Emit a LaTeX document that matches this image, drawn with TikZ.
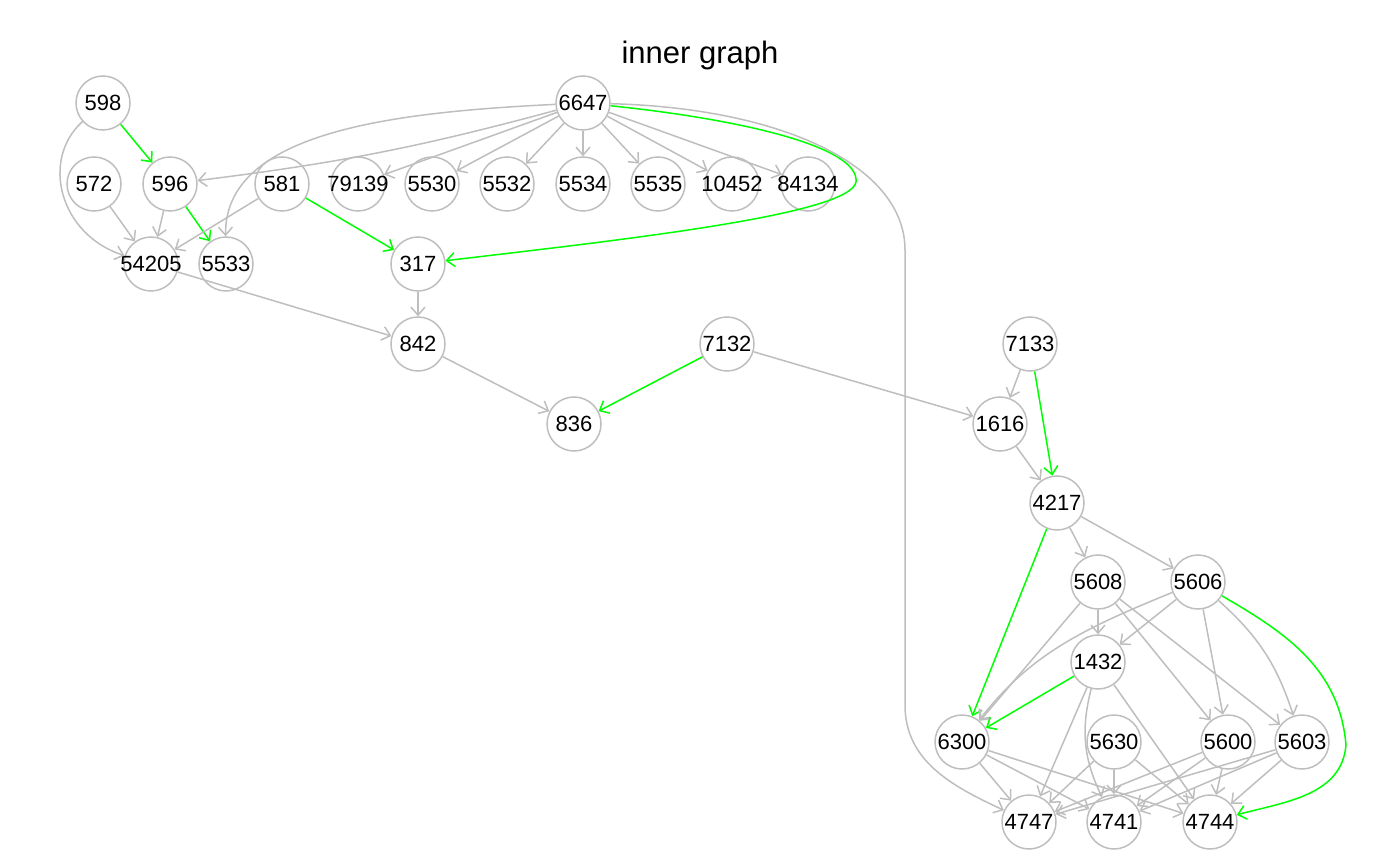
\documentclass[tikz,border=0pt]{standalone}
\usepackage{fontspec}
\setmainfont{Liberation Sans}
\usetikzlibrary{arrows.meta}
\definecolor{vgrey}{RGB}{190,190,190}
\definecolor{vgreen}{RGB}{0,255,0}

\begin{document}
\begin{tikzpicture}[x=1pt, y=1pt,
        vtx/.style={circle, draw=vgrey, line width=1.5pt, minimum size=54pt, inner xsep=-7pt, inner ysep=0pt, font=\fontsize{22}{23}\selectfont},
        edge/.style={draw=vgrey, line width=1.5pt, -{Straight Barb[length=8pt,width=14pt,line width=1.5pt]}},
        greenedge/.style={edge, draw=vgreen}]
    \useasboundingbox (0,0) rectangle (1400,-866);
    \node[font=\fontsize{31}{34}\selectfont] (title) at (700,-55) {inner graph};

    \node[vtx] (n598) at (103,-103) {598};
    \node[vtx] (n6647) at (583,-103) {6647};
    \node[vtx] (n572) at (94,-184) {572};
    \node[vtx] (n596) at (170,-184) {596};
    \node[vtx] (n581) at (282,-184) {581};
    \node[vtx] (n79139) at (358,-184) {79139};
    \node[vtx] (n5530) at (432,-184) {5530};
    \node[vtx] (n5532) at (507,-184) {5532};
    \node[vtx] (n5534) at (583,-184) {5534};
    \node[vtx] (n5535) at (658,-184) {5535};
    \node[vtx] (n10452) at (732,-184) {10452};
    \node[vtx] (n84134) at (808,-184) {84134};
    \node[vtx] (n54205) at (151,-264) {54205};
    \node[vtx] (n5533) at (226,-264) {5533};
    \node[vtx] (n317) at (418,-264) {317};
    \node[vtx] (n842) at (418,-344) {842};
    \node[vtx] (n7132) at (727,-344) {7132};
    \node[vtx] (n7133) at (1030,-344) {7133};
    \node[vtx] (n836) at (574,-424) {836};
    \node[vtx] (n1616) at (1000,-424) {1616};
    \node[vtx] (n4217) at (1057,-503) {4217};
    \node[vtx] (n5608) at (1098,-582) {5608};
    \node[vtx] (n5606) at (1198,-582) {5606};
    \node[vtx] (n1432) at (1098,-662) {1432};
    \node[vtx] (n6300) at (962,-742) {6300};
    \node[vtx] (n5630) at (1114,-742) {5630};
    \node[vtx] (n5600) at (1228,-742) {5600};
    \node[vtx] (n5603) at (1302,-742) {5603};
    \node[vtx] (n4747) at (1029,-822) {4747};
    \node[vtx] (n4741) at (1114,-822) {4741};
    \node[vtx] (n4744) at (1210,-822) {4744};

    \coordinate (greenturn) at (856,-182);
    \coordinate (longtop) at (905,-250);
    \coordinate (longlow) at (905,-705);
    \coordinate (rightturn) at (1346,-745);

    % upper left
    \draw[edge] (n598) .. controls (40,-160) and (60,-235) .. (n54205);
    \draw[greenedge] (n598) -- (n596);
    \draw[edge] (n572) -- (n54205);
    \draw[edge] (n596) -- (n54205);
    \draw[greenedge] (n596) -- (n5533);
    \draw[edge] (n581) -- (n54205);
    \draw[greenedge] (n581) -- (n317);
    \draw[edge] (n6647) to[bend left=4] (n596);
    \draw[edge] (n6647) .. controls (400,-112) and (224,-130) .. (n5533);
    \foreach \t in {79139,5530,5532,5534,5535,10452,84134}
        \draw[edge] (n6647) -- (n\t);
    \draw[greenedge] (n6647) .. controls (730,-118) and (860,-145) .. (greenturn)
        .. controls (850,-215) and (620,-240) .. (n317);
    \draw[edge] (n6647) .. controls (780,-108) and (905,-165) .. (longtop) -- (longlow) to[out=-90,in=155] (n4747);

    % middle
    \draw[edge] (n54205) -- (n842);
    \draw[edge] (n317) -- (n842);
    \draw[edge] (n842) -- (n836);
    \draw[greenedge] (n7132) -- (n836);
    \draw[edge] (n7132) -- (n1616);
    \draw[edge] (n7133) -- (n1616);
    \draw[greenedge] (n7133) -- (n4217);
    \draw[edge] (n1616) -- (n4217);

    % lower right
    \draw[edge] (n4217) -- (n5608);
    \draw[edge] (n4217) -- (n5606);
    \draw[greenedge] (n4217) -- (n6300);
    \draw[edge] (n5608) -- (n1432);
    \draw[edge] (n5608) -- (n6300);
    \draw[edge] (n5608) -- (n5600);
    \draw[edge] (n5608) -- (n5603);
    \draw[edge] (n5606) -- (n1432);
    \draw[edge] (n5606) .. controls (1080,-630) and (1030,-655) .. (n6300);
    \draw[edge] (n5606) -- (n5600);
    \draw[edge] (n5606) to[bend left=15] (n5603);
    \draw[greenedge] (n5606) to[out=-30,in=95] (rightturn) to[out=-95,in=15] (n4744);
    \draw[greenedge] (n1432) -- (n6300);
    \draw[edge] (n1432) -- (n4747);
    \draw[edge] (n1432) to[bend right=20] (n4741);
    \draw[edge] (n1432) -- (n4744);
    \foreach \s in {6300,5630,5600,5603}
        \foreach \t in {4747,4741,4744}
            \draw[edge] (n\s) -- (n\t);
\end{tikzpicture}
\end{document}
